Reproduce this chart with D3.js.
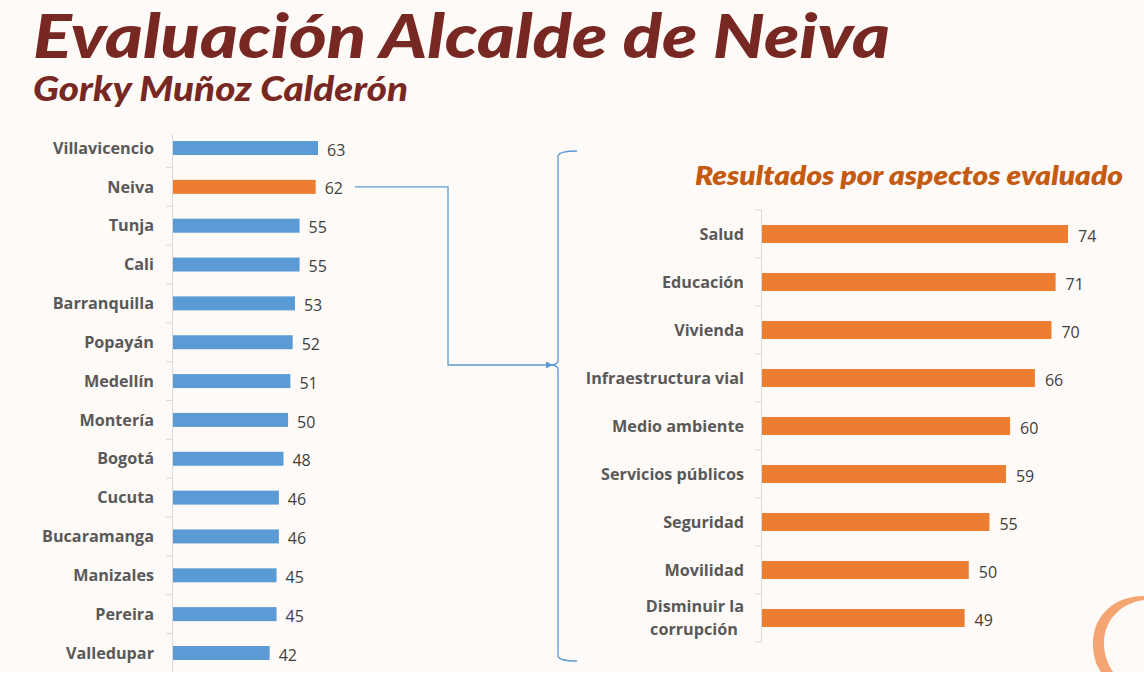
<!DOCTYPE html>
<html>
<head>
<meta charset="utf-8">
<script src="https://cdn.jsdelivr.net/npm/d3@7"></script>
<style>
html,body{margin:0;padding:0;background:#ffffff;}
svg{display:block;}
</style>
</head>
<body>
<svg id="chart" width="1144" height="690"></svg>
<script>
const cities = ["Villavicencio","Neiva","Tunja","Cali","Barranquilla","Popayán","Medellín","Montería","Bogotá","Cucuta","Bucaramanga","Manizales","Pereira","Valledupar"];
const cityValues = [63,62,55,55,53,52,51,50,48,46,46,45,45,42];
const highlightCity = "Neiva";

const aspects = ["Salud","Educación","Vivienda","Infraestructura vial","Medio ambiente","Servicios públicos","Seguridad","Movilidad","Disminuir la corrupción"];
const aspectLines = [["Salud"],["Educación"],["Vivienda"],["Infraestructura vial"],["Medio ambiente"],["Servicios públicos"],["Seguridad"],["Movilidad"],["Disminuir la","corrupción"]];
const aspectValues = [74,71,70,66,60,59,55,50,49];

const title = "Evaluación Alcalde de Neiva";
const subtitle = "Gorky Muñoz Calderón";
const rightTitle = "Resultados por aspectos evaluado";

const svg = d3.select("#chart");
const BG = "#fefaf7";
svg.append("rect").attr("width",1144).attr("height",672).attr("fill",BG);

const labelFont = "'Open Sans', 'DejaVu Sans', sans-serif";
const titleFont = "Lato, 'Open Sans', sans-serif";

// Titles
svg.append("text").attr("x",33).attr("y",58)
  .attr("font-family",titleFont).attr("font-weight",900).attr("font-style","italic")
  .attr("font-size",60).attr("fill","#782822")
  .attr("textLength",857).attr("lengthAdjust","spacingAndGlyphs")
  .text(title);
svg.append("text").attr("x",33).attr("y",101)
  .attr("font-family",titleFont).attr("font-weight",900).attr("font-style","italic")
  .attr("font-size",34).attr("fill","#782822")
  .attr("textLength",375).attr("lengthAdjust","spacingAndGlyphs")
  .text(subtitle);
svg.append("text").attr("x",695).attr("y",185)
  .attr("font-family",titleFont).attr("font-weight",800).attr("font-style","italic")
  .attr("font-size",26).attr("fill","#c55a11")
  .attr("textLength",428).attr("lengthAdjust","spacingAndGlyphs")
  .text(rightTitle);

// Left chart
const xL = d3.scaleLinear().domain([0,63]).range([173,318]);
const yL = d3.scaleBand().domain(cities).range([128.6,672.4]).paddingInner(0.64).paddingOuter(0.32);
const gL = svg.append("g");
const stepL = yL.step();
const boundsL = cities.map(c => yL(c) - (stepL - yL.bandwidth())/2).concat([yL(cities[cities.length-1]) + yL.bandwidth() + (stepL - yL.bandwidth())/2]);
gL.append("line").attr("x1",172.5).attr("x2",172.5).attr("y1",boundsL[0]+5).attr("y2",672).attr("stroke","#d9d9d9").attr("stroke-width",1);
gL.selectAll(".tk").data(boundsL.slice(1,-1)).join("line")
  .attr("x1",166).attr("x2",172.5).attr("y1",d=>d).attr("y2",d=>d).attr("stroke","#d9d9d9");
gL.selectAll(".bar").data(cities).join("rect")
  .attr("x",xL(0)).attr("y",d=>yL(d)).attr("height",yL.bandwidth())
  .attr("width",(d,i)=>xL(cityValues[i])-xL(0))
  .attr("fill",d=>d===highlightCity?"#ed7d31":"#5b9bd5");
gL.selectAll(".lab").data(cities).join("text")
  .attr("x",154).attr("y",d=>yL(d)+yL.bandwidth()/2).attr("dy","0.35em")
  .attr("text-anchor","end").attr("font-family",labelFont).attr("font-weight",700)
  .attr("font-size",16.2).attr("fill","#595959").text(d=>d);
gL.selectAll(".val").data(cities).join("text")
  .attr("x",(d,i)=>xL(cityValues[i])+9).attr("y",d=>yL(d)+yL.bandwidth()/2+2).attr("dy","0.35em")
  .attr("font-family",labelFont).attr("font-size",16).attr("fill","#404040")
  .text((d,i)=>cityValues[i]);

// Right chart
const xR = d3.scaleLinear().domain([0,74]).range([762,1068]);
const yR = d3.scaleBand().domain(aspects).range([210,642]).paddingInner(0.625).paddingOuter(0.3125);
const gR = svg.append("g");
const stepR = yR.step();
const boundsR = aspects.map(c => yR(c) - (stepR - yR.bandwidth())/2).concat([642]);
gR.append("line").attr("x1",761.5).attr("x2",761.5).attr("y1",210).attr("y2",642).attr("stroke","#d9d9d9");
gR.selectAll(".tk").data(boundsR).join("line")
  .attr("x1",755).attr("x2",761.5).attr("y1",d=>d).attr("y2",d=>d).attr("stroke","#d9d9d9");
gR.selectAll(".bar").data(aspects).join("rect")
  .attr("x",xR(0)).attr("y",d=>yR(d)).attr("height",yR.bandwidth())
  .attr("width",(d,i)=>xR(aspectValues[i])-xR(0)).attr("fill","#ed7d31");
const labR = gR.selectAll(".lab").data(aspects).join("text")
  .attr("font-family",labelFont).attr("font-weight",700)
  .attr("font-size",16.2).attr("fill","#595959");
labR.each(function(d,i){
  const lines = aspectLines[i];
  const cy = yR(d)+yR.bandwidth()/2;
  const t = d3.select(this);
  if(lines.length===1){
    t.append("tspan").attr("x",744).attr("y",cy).attr("dy","0.35em").attr("text-anchor","end").text(lines[0]);
  } else {
    t.append("tspan").attr("x",744).attr("y",cy-11.5).attr("dy","0.35em").attr("text-anchor","end").text(lines[0]);
    t.append("tspan").attr("x",694).attr("y",cy+11.5).attr("dy","0.35em").attr("text-anchor","middle").text(lines[1]);
  }
});
gR.selectAll(".val").data(aspects).join("text")
  .attr("x",(d,i)=>xR(aspectValues[i])+10).attr("y",d=>yR(d)+yR.bandwidth()/2+2).attr("dy","0.35em")
  .attr("font-family",labelFont).attr("font-size",16).attr("fill","#404040")
  .text((d,i)=>aspectValues[i]);

// Connector arrow
const ny = yL(highlightCity)+yL.bandwidth()/2;
svg.append("defs").append("marker").attr("id","arr").attr("viewBox","0 0 10 10")
  .attr("refX",10).attr("refY",5).attr("markerWidth",8).attr("markerHeight",7)
  .attr("markerUnits","userSpaceOnUse").attr("orient","auto")
  .append("path").attr("d","M0,0 L10,5 L0,10 Z").attr("fill","#5b9bd5");
svg.append("path")
  .attr("d",`M355,${ny} H448 V365 H553`)
  .attr("fill","none").attr("stroke","#5b9bd5").attr("stroke-width",1.3)
  .attr("marker-end","url(#arr)");

// Brace
svg.append("path")
  .attr("d","M577,151 Q559,151 558,156 L558,361 Q558,364 552,365 Q558,366 558,369 L558,656 Q559,661 577,661")
  .attr("fill","none").attr("stroke","#5b9bd5").attr("stroke-width",1.3);

// Decorative crescent
svg.append("path")
  .attr("d","M1144,596 C1112,596 1093,618 1093,643 C1093,656 1096,665 1101,672 L1113,672 C1107,663 1104,654 1104,643 C1104,621 1120,603 1144,600 Z")
  .attr("fill","#f5a571");
</script>
</body>
</html>
